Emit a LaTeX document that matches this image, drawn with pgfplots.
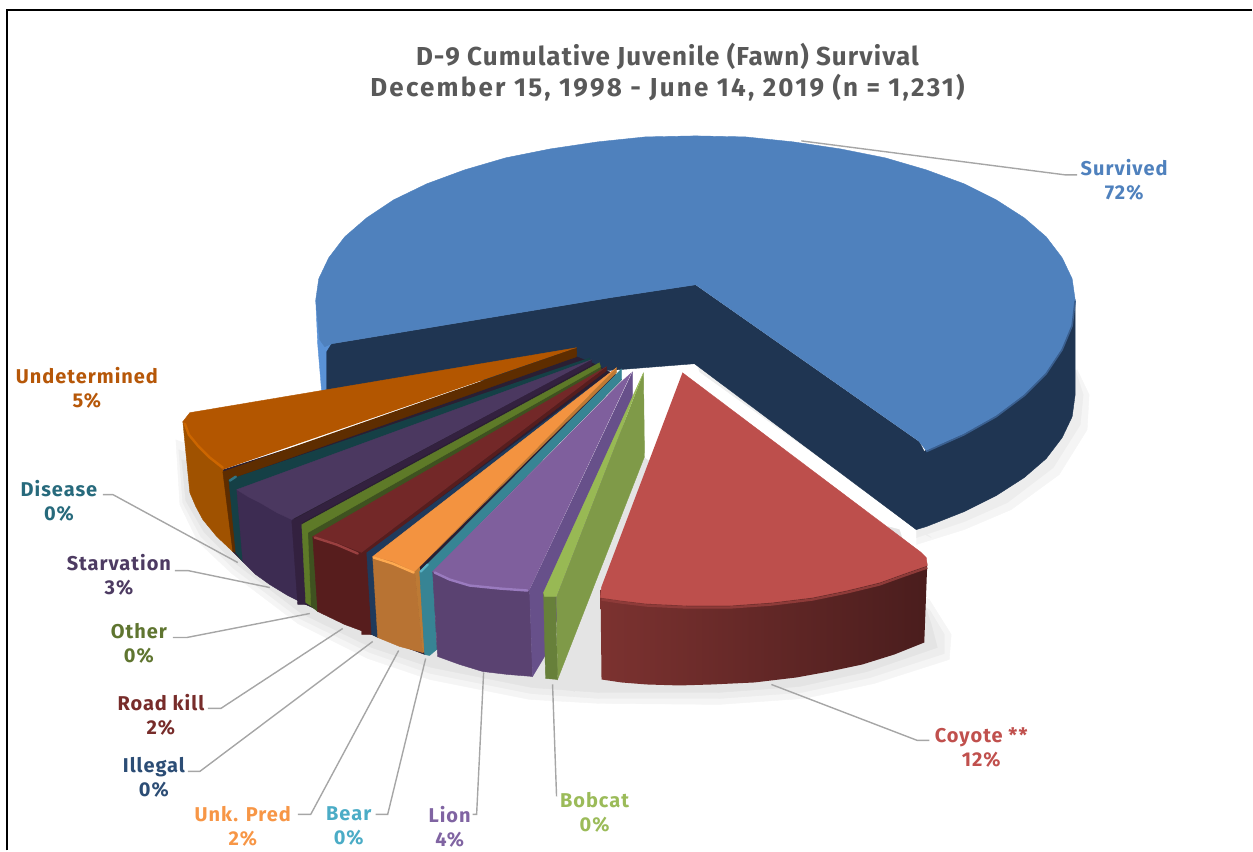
\documentclass[border=0pt]{standalone}
\usepackage{fontspec}
\setmainfont{Fira Sans}
\newfontfamily\labfont[LetterSpace=5]{Fira Sans}
\newfontfamily\titleonefont[LetterSpace=4.2]{Fira Sans}
\newfontfamily\titletwofont[LetterSpace=8.6]{Fira Sans}
\usepackage{pgfplots}
\pgfplotsset{compat=1.18}

\definecolor{titlegray}{HTML}{595959}
\definecolor{leader}{HTML}{A6A6A6}
\definecolor{shadeA}{HTML}{F5F5F5}
\definecolor{shadeB}{HTML}{EDEDED}
\definecolor{shadeC}{HTML}{E4E4E4}
\definecolor{fanBack}{HTML}{2A1F33}
% slices: top, wall, cut side, rim highlight
\definecolor{survTop}{HTML}{4F81BD}
\definecolor{survWall}{HTML}{1F3552}
\definecolor{survRim}{HTML}{5A92D6}
\definecolor{survEdge}{HTML}{3A5F8F}
\definecolor{undTop}{HTML}{B35600}
\definecolor{undWall}{HTML}{A05200}
\definecolor{undSide}{HTML}{5E2D00}
\definecolor{undRim}{HTML}{CC6600}
\definecolor{disSide}{HTML}{154046}
\definecolor{disRim}{HTML}{327382}
\definecolor{staTop}{HTML}{4B3860}
\definecolor{staWall}{HTML}{3D2C52}
\definecolor{staSide}{HTML}{33213F}
\definecolor{othTop}{HTML}{5E7A28}
\definecolor{othSide}{HTML}{3F5220}
\definecolor{roaTop}{HTML}{732828}
\definecolor{roaWall}{HTML}{571D1D}
\definecolor{roaRim}{HTML}{9A4040}
\definecolor{illSide}{HTML}{1F3A5C}
\definecolor{unkTop}{HTML}{F39340}
\definecolor{unkWall}{HTML}{B87333}
\definecolor{unkSide}{HTML}{BD7A35}
\definecolor{unkRim}{HTML}{FFAA50}
\definecolor{beaSide}{HTML}{378494}
\definecolor{beaRim}{HTML}{5AB4C8}
\definecolor{lioTop}{HTML}{7F5F9D}
\definecolor{lioWall}{HTML}{5A4271}
\definecolor{lioSide}{HTML}{67508A}
\definecolor{lioRim}{HTML}{9A7BBF}
\definecolor{bobTop}{HTML}{98B954}
\definecolor{bobSide}{HTML}{7F9A48}
\definecolor{bobWall}{HTML}{67803A}
\definecolor{coyTop}{HTML}{BD4F4C}
\definecolor{coyL}{HTML}{7C3230}
\definecolor{coyR}{HTML}{4A1D1D}
\definecolor{coyEdge}{HTML}{8E3B39}
% label colours
\definecolor{labSur}{HTML}{4F81BD}
\definecolor{labCoy}{HTML}{C0504D}
\definecolor{labBob}{HTML}{9BBB59}
\definecolor{labLio}{HTML}{8064A2}
\definecolor{labBea}{HTML}{4BACC6}
\definecolor{labUnk}{HTML}{F79646}
\definecolor{labIll}{HTML}{2C4D75}
\definecolor{labRoa}{HTML}{772C2A}
\definecolor{labOth}{HTML}{5F7530}
\definecolor{labSta}{HTML}{4D3B62}
\definecolor{labDis}{HTML}{276A7C}
\definecolor{labUnd}{HTML}{B65708}

\pgfplotsset{
    face/.style={fill=#1,draw=#1,line width=0.2pt},
    rim/.style={draw=#1,line width=1.2pt,line cap=round},
    lead/.style={draw=leader,line width=0.7pt},
}
\tikzset{lab/.style={align=center,font=\labfont\bfseries\fontsize{10}{12}\selectfont,text=#1,inner sep=0pt}}

\begin{document}
\begin{tikzpicture}
\begin{axis}[
    scale only axis,
    width=626.5pt,
    height=425.5pt,
    xmin=0, xmax=1253,
    ymin=0, ymax=851,
    y dir=reverse,
    hide axis,
    clip=false,
]
% keep the whole page in the bounding box
\path (axis cs:0,0) rectangle (axis cs:1253,851);
% frame
\addplot[draw=black,line width=1pt] coordinates {(7,851) (7,10) (1253,10)};

% soft shadows
\addplot[face=shadeA] coordinates {(176,440) (180,505) (198,542) (232,574) (298,624) (368,659) (430,680) (530,700) (600,704) (720,705) (805,699) (875,684) (950,660) (952,635) (930,600) (650,470) (600,590)};
\addplot[face=shadeB] coordinates {(179,450) (183,503) (201,537) (234,569) (300,619) (370,653) (431,674) (531,694) (600,699) (719,699) (802,693) (871,678) (945,654) (945,635) (930,610) (650,465) (597,590)};
\addplot[face=shadeC] coordinates {(182,460) (186,501) (204,532) (236,564) (302,614) (372,648) (432,668) (532,688) (600,693) (718,693) (800,687) (868,672) (938,648) (932,625) (900,530) (650,465) (597,590)};
\addplot[face=shadeA] coordinates {(917,545) (965,530) (1012,510) (1060,475) (1088,430) (1090,395) (1078,370) (917,500)};
\addplot[face=shadeB] coordinates {(917,538) (965,522) (1008,503) (1054,468) (1081,425) (1084,395) (1076,370) (917,500)};
\addplot[face=shadeB] coordinates {(697,364) (917,530) (932,538) (700,372)};
\addplot[face=shadeC] coordinates {(645,458) (558,682) (575,692) (600,640) (602,590) (651,462)};

% Survived
\addplot[face=survRim] coordinates {(316,300) (318,345) (322,393) (335,393) (335,340) (325,300)};
\addplot[face=survWall] coordinates {(696,285) (610,298) (332,344) (327,352) (327,393) (695,364) (917,530) (927,527) (965,512) (997,496) (1025,478) (1047,459) (1063,438) (1073,417) (1076,395) (1076,300) (925,452) (920,442)};
\addplot[face=survTop] coordinates {(696,285) (610,298) (332,344) (325,347) (320,340) (316,300) (319,279) (329,258) (345,237) (367,218) (394,200) (427,184) (465,170) (506,158) (551,149) (598,142) (646,137) (696,136) (746,137) (794,142) (841,149) (886,158) (927,170) (965,184) (997,200) (1025,218) (1047,237) (1063,258) (1073,279) (1076,300) (1073,325) (1063,349) (1047,373) (1025,395) (997,416) (965,434) (927,451) (920,442)};
\addplot[draw=survEdge,line width=0.8pt] coordinates {(1076,301) (1073,326) (1063,350) (1047,374) (1025,396) (997,417) (965,435) (927,452)};

% dark backing behind the fan of small slices
\addplot[face=fanBack] coordinates {(577,357) (590,362) (600,367) (607,371) (615,374) (622,380) (433,572) (437,650) (425,655) (372,635) (306,605) (243,562) (233,552) (223,470)};

% Undetermined
\addplot[face=undWall] coordinates {(183,422) (190,493) (196,507) (203,520) (217,537) (233,552) (223,470) (209,458) (197,445) (188,434)};
\addplot[face=undSide] coordinates {(577,348) (577,357) (229,480) (237,553) (233,552) (223,472)};
\addplot[draw=undSide,line width=2pt] coordinates {(577,352) (225,474)};
\addplot[face=undTop] coordinates {(577,348) (190,413) (183,422) (188,434) (197,445) (209,458) (223,470)};
\addplot[rim=undRim] coordinates {(185,424) (189,435) (198,446) (210,458) (223,468)};

% Disease
\addplot[face=disSide] coordinates {(590,358) (592,363) (237,490) (243,562) (236,553) (229,480)};
\addplot[rim=disRim] coordinates {(230,481) (236,477)};

% Starvation
\addplot[face=staWall] coordinates {(237,490) (243,562) (256,575) (270,585) (288,596) (306,605) (298,522) (277,513) (260,503) (248,497)};
\addplot[face=staSide] coordinates {(592,360) (592,365) (302,523) (307,605) (298,605) (292,521)};
\addplot[face=staTop] coordinates {(592,360) (237,490) (248,497) (260,503) (277,513) (292,520)};

% Other
\addplot[face=othSide] coordinates {(601,365) (602,372) (314,537) (318,612) (307,603) (303,528)};
\addplot[face=othTop] coordinates {(600,363) (302,525) (306,603) (311,606) (308,533) (601,367)};

% Road kill
\addplot[face=roaWall] coordinates {(313,537) (318,612) (345,625) (372,635) (362,553) (337,543)};
\addplot[face=roaWall] coordinates {(607,367) (607,371) (368,553) (372,635) (362,635) (362,553)};
\addplot[face=roaTop] coordinates {(607,367) (313,537) (337,543) (362,553)};
\addplot[rim=roaRim] coordinates {(315,538) (337,545) (358,554)};

% Illegal
\addplot[face=illSide] coordinates {(613,371) (615,374) (373,557) (378,638) (372,635) (367,553)};

% Unk. Pred
\addplot[face=unkWall] coordinates {(373,557) (378,638) (400,647) (423,653) (415,570) (393,562)};
\addplot[face=unkSide] coordinates {(617,368) (617,373) (420,567) (425,653) (423,653) (415,570)};
\addplot[face=unkTop] coordinates {(617,368) (373,557) (393,562) (415,572)};
\addplot[rim=unkRim] coordinates {(374,558) (393,564) (414,573)};

% Bear
\addplot[face=beaSide] coordinates {(622,369) (622,380) (433,572) (437,650) (430,656) (425,655) (420,572)};
\addplot[rim=beaRim] coordinates {(421,572) (428,565)};

% Lion
\addplot[face=lioWall] coordinates {(433,572) (438,657) (460,665) (483,672) (508,675) (533,677) (530,590) (500,588) (470,585) (450,579)};
\addplot[face=lioSide] coordinates {(633,372) (633,397) (545,657) (533,677) (530,590)};
\addplot[face=lioTop] coordinates {(632,373) (622,382) (433,572) (450,579) (470,585) (500,588) (530,590)};
\addplot[rim=lioRim] coordinates {(435,573) (450,580) (470,586) (500,589) (528,591)};

% Bobcat
\addplot[face=bobSide] coordinates {(644,373) (645,457) (558,680) (557,597)};
\addplot[face=bobWall] coordinates {(544,593) (546,679) (558,680) (556,597)};
\addplot[face=bobTop] coordinates {(644,373) (544,593) (545,597) (557,597)};

% Coyote
\addplot[left color=coyL,right color=coyR,draw=none] coordinates {(601,590) (602,680) (622,683) (647,685) (680,686) (713,685) (755,683) (797,678) (830,672) (863,665) (895,655) (925,643) (928,564) (905,573) (880,582) (847,590) (813,597) (772,602) (730,605) (688,605) (647,603) (622,600)};
\addplot[face=coyTop] coordinates {(683,373) (922,553) (927,558) (928,566) (905,574) (880,583) (847,591) (813,598) (772,603) (730,606) (688,606) (647,604) (622,601) (601,598) (602,587)};
\addplot[draw=coyEdge,line width=1.2pt] coordinates {(928,568) (905,576) (880,585) (847,593) (813,600) (772,605) (730,608) (688,608) (647,606) (622,603) (602,600)};

% leader lines
\addplot[lead] coordinates {(802,141) (1066,175) (1078,175)};
\addplot[lead] coordinates {(772,685) (918,741) (930,741)};
\addplot[lead] coordinates {(553,685) (557,797)};
\addplot[lead] coordinates {(484,673) (477,815) (473,815)};
\addplot[lead] coordinates {(426,659) (388,815) (376,815)};
\addplot[lead] coordinates {(399,651) (311,815) (298,815)};
\addplot[lead] coordinates {(373,642) (200,772) (188,772)};
\addplot[lead] coordinates {(343,629) (221,709) (208,709)};
\addplot[lead] coordinates {(310,614) (187,638) (173,638)};
\addplot[lead] coordinates {(270,588) (188,571) (175,571)};
\addplot[lead] coordinates {(238,563) (113,495) (103,495)};

% title
\node[font=\titleonefont\bfseries\fontsize{13}{15.5}\selectfont,text=titlegray,inner sep=0pt] at (axis cs:668,57) {D-9 Cumulative Juvenile (Fawn) Survival};
\node[font=\titletwofont\bfseries\fontsize{13}{15.5}\selectfont,text=titlegray,inner sep=0pt] at (axis cs:668,88) {December 15, 1998 - June 14, 2019 (n = 1,231)};

% labels
\node[lab=labSur] at (axis cs:1125,180) {Survived\\72\%};
\node[lab=labCoy] at (axis cs:982,748) {Coyote **\\12\%};
\node[lab=labBob] at (axis cs:595,813) {Bobcat\\0\%};
\node[lab=labLio] at (axis cs:450,827) {Lion\\4\%};
\node[lab=labBea] at (axis cs:349,827) {Bear\\0\%};
\node[lab=labUnk] at (axis cs:243,827) {Unk. Pred\\2\%};
\node[lab=labIll] at (axis cs:154,778) {Illegal\\0\%};
\node[lab=labRoa] at (axis cs:161,715) {Road kill\\2\%};
\node[lab=labOth] at (axis cs:139,644) {Other\\0\%};
\node[lab=labSta] at (axis cs:119,575) {Starvation\\3\%};
\node[lab=labDis] at (axis cs:59,501) {Disease\\0\%};
\node[lab=labUnd] at (axis cs:87,388) {Undetermined\\5\%};
\end{axis}
\end{tikzpicture}
\end{document}
